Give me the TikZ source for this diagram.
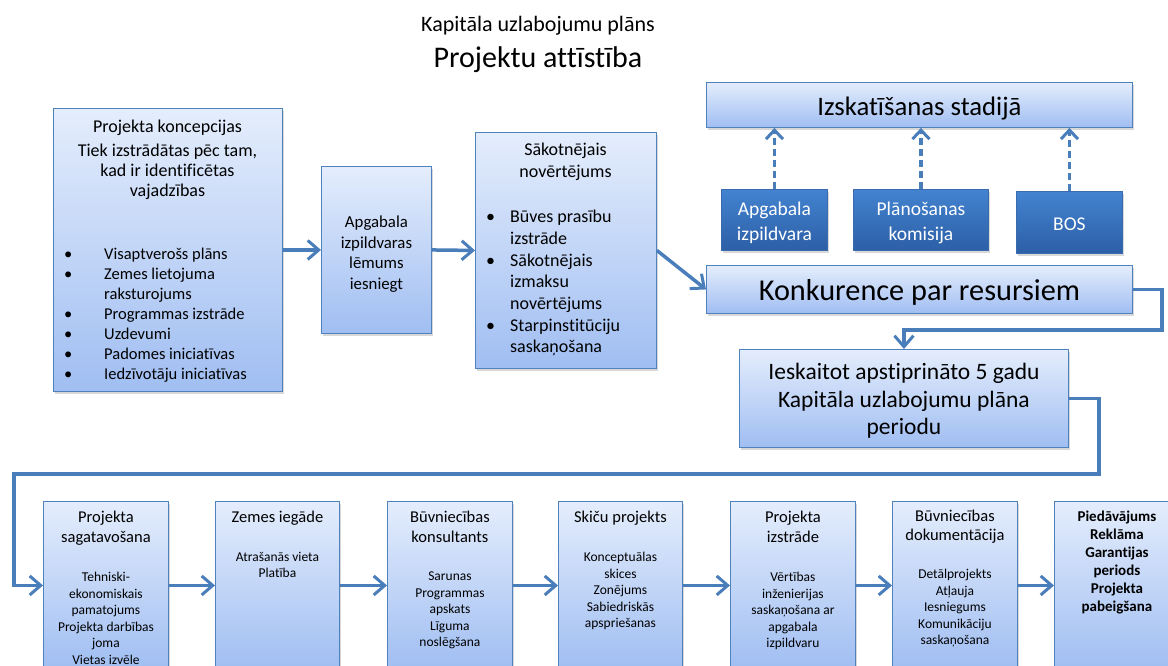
\documentclass[tikz,border=0pt]{standalone}
\usepackage{fontspec}
\setmainfont{Carlito}[Ligatures={NoCommon}]
\usetikzlibrary{arrows.meta,shadows,calc}

\definecolor{boxtop}{HTML}{E4EDFC}
\definecolor{boxbot}{HTML}{A0BEF2}
\definecolor{boxline}{HTML}{4F81BD}
\definecolor{darktop}{HTML}{4383D0}
\definecolor{darkbot}{HTML}{2C5FA6}
\definecolor{darkline}{HTML}{3A6BAE}
\definecolor{linkblue}{HTML}{4A7EBB}

\newcommand\fsz[2]{\fontsize{#1}{#2}\selectfont}

\begin{document}
\begin{tikzpicture}[x=1pt,y=-1pt,
  lbox/.style={rectangle, draw=boxline, line width=0.9pt, top color=boxtop,
    bottom color=boxbot, inner sep=0pt, anchor=north west,
    drop shadow={shadow xshift=1.5pt, shadow yshift=-2.5pt, opacity=0.3}},
  dbox/.style={rectangle, draw=darkline, line width=0.9pt, top color=darktop,
    bottom color=darkbot, inner sep=0pt, anchor=north west,
    drop shadow={shadow xshift=1.5pt, shadow yshift=-2.5pt, opacity=0.3}},
  conn/.style={draw=linkblue, line width=3.5pt,
    -{Straight Barb[length=11pt,width=19pt,line width=3pt]}},
  dconn/.style={draw=linkblue, line width=3.5pt, dash pattern=on 7pt off 4pt,
    -{Straight Barb[length=9pt,width=17pt,line width=3pt]}},
  txt/.style={inner sep=0pt, align=center},
  lst/.style={inner sep=0pt, align=left, anchor=north west},
  btitle/.style={txt, anchor=north, font=\fsz{16.5}{20}},
  bsub/.style={txt, anchor=north, font=\fsz{13.5}{16.5}},
]
\useasboundingbox (0,0) rectangle (1168,666);
\fill[white] (0,0) rectangle (1168,666);
\clip (0,0) rectangle (1168,666);

% heading
\node[txt, font=\fsz{22}{26}] (head1) at (538,26) {Kapitāla uzlabojumu plāns};
\node[txt, font=\fsz{30}{36}] (head2) at (538,60) {Projektu attīstība};

% upper row
\node[lbox, minimum width=229pt, minimum height=283pt] (k) at (53,108) {};
\node[txt, anchor=north, font=\fsz{18}{20}] (ktitle) at (167.5,119.5)
  {Projekta koncepcijas\\[4pt]Tiek izstrādātas pēc tam,\\kad ir identificētas\\vajadzības};
\node[lst, font=\fsz{16.5}{20}] (klist) at (64,247.5)
  {\makebox[40pt][l]{•}Visaptverošs plāns\\
   \makebox[40pt][l]{•}Zemes lietojuma\\
   \hspace*{40pt}raksturojums\\
   \makebox[40pt][l]{•}Programmas izstrāde\\
   \makebox[40pt][l]{•}Uzdevumi\\
   \makebox[40pt][l]{•}Padomes iniciatīvas\\
   \makebox[40pt][l]{•}Iedzīvotāju iniciatīvas};

\node[lbox, minimum width=110pt, minimum height=167pt] (a) at (321,166) {};
\node[txt, font=\fsz{16.8}{20.5}] (atext) at ($(a.center)+(0,4)$)
  {Apgabala\\izpildvaras\\lēmums\\iesniegt};

\node[lbox, minimum width=181pt, minimum height=236pt] (s) at (475,132) {};
\node[txt, anchor=north, font=\fsz{18}{22}] (stitle) at (565.5,142.5)
  {Sākotnējais\\novērtējums};
\node[lst, font=\fsz{18}{21.7}] (slist) at (486,210)
  {\makebox[24pt][l]{•}Būves prasību\\
   \hspace*{24pt}izstrāde\\
   \makebox[24pt][l]{•}Sākotnējais\\
   \hspace*{24pt}izmaksu\\
   \hspace*{24pt}novērtējums\\
   \makebox[24pt][l]{•}Starpinstitūciju\\
   \hspace*{24pt}saskaņošana};

% review stage
\node[lbox, minimum width=426pt, minimum height=45pt] (iz) at (706,82) {};
\node[txt, font=\fsz{26.7}{30}] (iztext) at ($(iz.center)+(0,3.5)$) {Izskatīšanas stadijā};
\node[dbox, minimum width=106pt, minimum height=61pt] (d1) at (721,189) {};
\node[dbox, minimum width=135pt, minimum height=61pt] (d2) at (853,189) {};
\node[dbox, minimum width=106pt, minimum height=62pt] (d3) at (1016,191) {};
\node[txt, text=white, font=\fsz{19.5}{24.5}] (d1text) at ($(d1.center)+(0,3)$) {Apgabala\\izpildvara};
\node[txt, text=white, font=\fsz{19.5}{24.5}] (d2text) at ($(d2.center)+(0,3)$) {Plānošanas\\komisija};
\node[txt, text=white, font=\fsz{19.5}{24.5}] (d3text) at ($(d3.center)+(0,2)$) {BOS};

\draw[dconn] (d1.north) -- (d1.north |- iz.south);
\draw[dconn] (d2.north) -- (d2.north |- iz.south);
\draw[dconn] (d3.north) -- (d3.north |- iz.south);

\node[lbox, minimum width=426pt, minimum height=48pt] (kr) at (706,265) {};
\node[txt, font=\fsz{30.3}{34}] (krtext) at ($(kr.center)+(0,3)$) {Konkurence par resursiem};
\node[lbox, minimum width=329pt, minimum height=98pt] (ie) at (739,349) {};
\node[txt, font=\fsz{23.5}{27.5}] (ietext) at ($(ie.center)+(0,2.5)$)
  {Ieskaitot apstiprināto 5 gadu\\Kapitāla uzlabojumu plāna\\periodu};

% lower row
\node[lbox, minimum width=125pt, minimum height=168pt] (p1) at (43,501) {};
\node[lbox, minimum width=124pt, minimum height=168pt] (p2) at (215,501) {};
\node[lbox, minimum width=125pt, minimum height=168pt] (p3) at (387,501) {};
\node[lbox, minimum width=124pt, minimum height=168pt] (p4) at (558,501) {};
\node[lbox, minimum width=125pt, minimum height=168pt] (p5) at (730,501) {};
\node[lbox, minimum width=125pt, minimum height=168pt] (p6) at (892,501) {};
\node[lbox, minimum width=125pt, minimum height=168pt] (p7) at (1054,501) {};

\node[btitle] (p1t) at ($(p1.north)+(0,10)$) {Projekta\\sagatavošana};
\node[bsub] (p1s) at ($(p1.north)+(0,71)$)
  {Tehniski-\\ekonomiskais\\pamatojums\\Projekta darbības\\joma\\Vietas izvēle};
\node[btitle] (p2t) at ($(p2.north)+(0,10)$) {Zemes iegāde};
\node[bsub] (p2s) at ($(p2.north)+(0,51)$) {Atrašanās vieta\\Platība};
\node[btitle] (p3t) at ($(p3.north)+(0,10)$) {Būvniecības\\konsultants};
\node[bsub] (p3s) at ($(p3.north)+(0,71)$)
  {Sarunas\\Programmas\\apskats\\Līguma\\noslēgšana};
\node[btitle] (p4t) at ($(p4.north)+(0,10)$) {Skiču projekts};
\node[bsub] (p4s) at ($(p4.north)+(0,51)$)
  {Konceptuālas\\skices\\Zonējums\\Sabiedriskās\\apspriešanas};
\node[btitle] (p5t) at ($(p5.north)+(0,10)$) {Projekta\\izstrāde};
\node[bsub] (p5s) at ($(p5.north)+(0,71)$)
  {Vērtības\\inženierijas\\saskaņošana ar\\apgabala\\izpildvaru};
\node[btitle, font=\fsz{16.5}{19}] (p6t) at ($(p6.north)+(0,9)$) {Būvniecības\\dokumentācija};
\node[bsub] (p6s) at ($(p6.north)+(0,68)$)
  {Detālprojekts\\Atļauja\\Iesniegums\\Komunikāciju\\saskaņošana};
\node[txt, anchor=north, font=\fsz{15}{18}\bfseries] (p7t) at ($(p7.north)+(0,10)$)
  {Piedāvājums\\Reklāma\\Garantijas\\periods\\Projekta\\pabeigšana};

% connectors
\draw[conn] (k.east) -- (a.west);
\draw[conn] (a.east) -- (s.west);
\draw[conn] (s.east) -- (kr.west);
\draw[conn] (kr.east) -- ++(29,0) |- ($(ie.north)+(0,-19)$) -- (ie.north);
\coordinate (bend) at (14,474);
\draw[conn] (ie.east) -- ++(30,0) |- (bend) |- (p1.west);
\draw[conn] (p1.east) -- (p2.west);
\draw[conn] (p2.east) -- (p3.west);
\draw[conn] (p3.east) -- (p4.west);
\draw[conn] (p4.east) -- (p5.west);
\draw[conn] (p5.east) -- (p6.west);
\draw[conn] (p6.east) -- (p7.west);
\end{tikzpicture}
\end{document}
